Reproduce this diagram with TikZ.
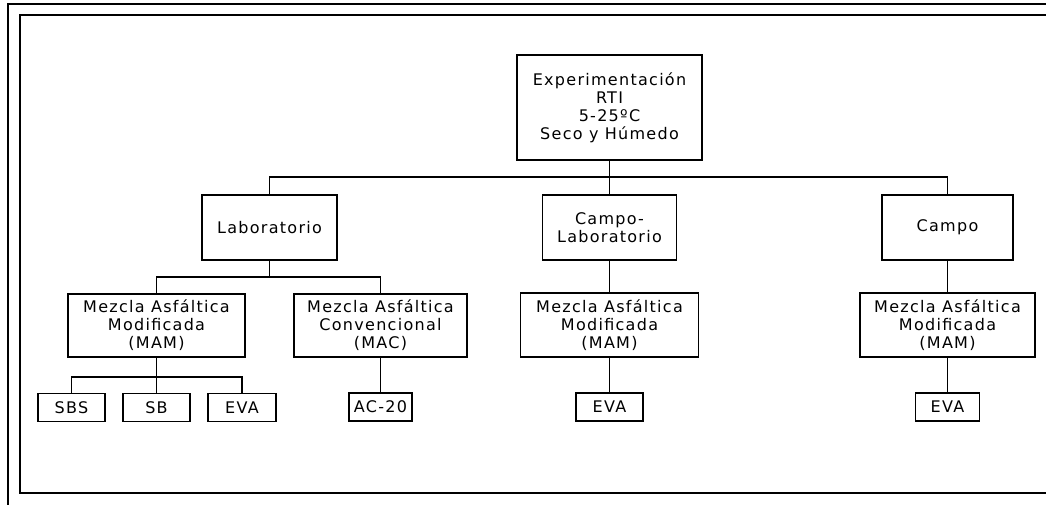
\documentclass[tikz,border=0pt]{standalone}
\usepackage{fontspec}
\setmainfont[LetterSpace=8]{DejaVu Sans}
\usepackage{tikz}
\usetikzlibrary{positioning}

\begin{document}
\begin{tikzpicture}[x=1pt, y=-1pt]
		    \tikzstyle{every path}=[line width=1.7pt]
		    \tikzstyle{caja}=[draw, align=center, inner sep=0pt,
		      font=\fontsize{16}{18}\selectfont]
		    \tikzstyle{cajita}=[caja, minimum height=28pt]
		    \useasboundingbox (0,0) rectangle (1046,505);
		    % marco
		    \draw[line width=1.3pt] (8,505) -- (8,4) -- (1046,4);
		    \draw[line width=1.3pt] (1046,15) -- (20,15) -- (20,493) -- (1046,493);
		    % nivel 1
		    \node [caja, minimum width=185pt, minimum height=105pt] (exp) at (609.5,107.5)
		      {Experimentación\\RTI\\5-25ºC\\Seco y Húmedo};
		    % nivel 2
		    \node [caja, minimum width=135pt, minimum height=65pt] (lab) at (269.5,227.5) {Laboratorio};
		    \node [caja, minimum width=134pt, minimum height=65pt] (campolab) at (609.5,227.5) {Campo-\\Laboratorio};
		    \node [caja, minimum width=131pt, minimum height=65pt] (campo) at (947.5,227.5) {Campo};
		    % nivel 3
		    \node [caja, minimum width=177pt, minimum height=63pt] (mamlab) at (156.5,325.5)
		      {Mezcla Asfáltica\\Modificada\\(MAM)};
		    \node [caja, minimum width=173pt, minimum height=63pt] (maclab) at (380.5,325.5)
		      {Mezcla Asfáltica\\Convencional\\(MAC)};
		    \node [caja, minimum width=178pt, minimum height=64pt] (mamcl) at (609.5,325)
		      {Mezcla Asfáltica\\Modificada\\(MAM)};
		    \node [caja, minimum width=175pt, minimum height=64pt] (mamc) at (947.5,325)
		      {Mezcla Asfáltica\\Modificada\\(MAM)};
		    % nivel 4
		    \node [cajita, minimum width=67pt] (sbs) at (71.5,407.5) {SBS};
		    \node [cajita, minimum width=67pt] (sb) at (156.5,407.5) {SB};
		    \node [cajita, minimum width=68pt] (evalab) at (242,407.5) {EVA};
		    \node [cajita, minimum width=63pt] (ac) at (380.5,407) {AC-20};
		    \node [cajita, minimum width=67pt] (evacl) at (609.5,407) {EVA};
		    \node [cajita, minimum width=64pt] (evac) at (947.5,407) {EVA};
		    % conexiones
		    \coordinate (bus1) at (609.5,177);
		    \coordinate (bus2) at (269.5,277);
		    \coordinate (bus3) at (156.5,377);
		    \draw (exp.south) -- (campolab.north);
		    \draw (lab.north) |- (bus1) -| (campo.north);
		    \draw (lab.south) -- (bus2);
		    \draw (mamlab.north) |- (bus2) -| (maclab.north);
		    \draw (mamlab.south) -- (sb.north);
		    \draw (sbs.north) |- (bus3) -| (evalab.north);
		    \draw (maclab.south) -- (ac.north);
		    \draw (campolab.south) -- (mamcl.north);
		    \draw (mamcl.south) -- (evacl.north);
		    \draw (campo.south) -- (mamc.north);
		    \draw (mamc.south) -- (evac.north);
	\end{tikzpicture}
\end{document}
